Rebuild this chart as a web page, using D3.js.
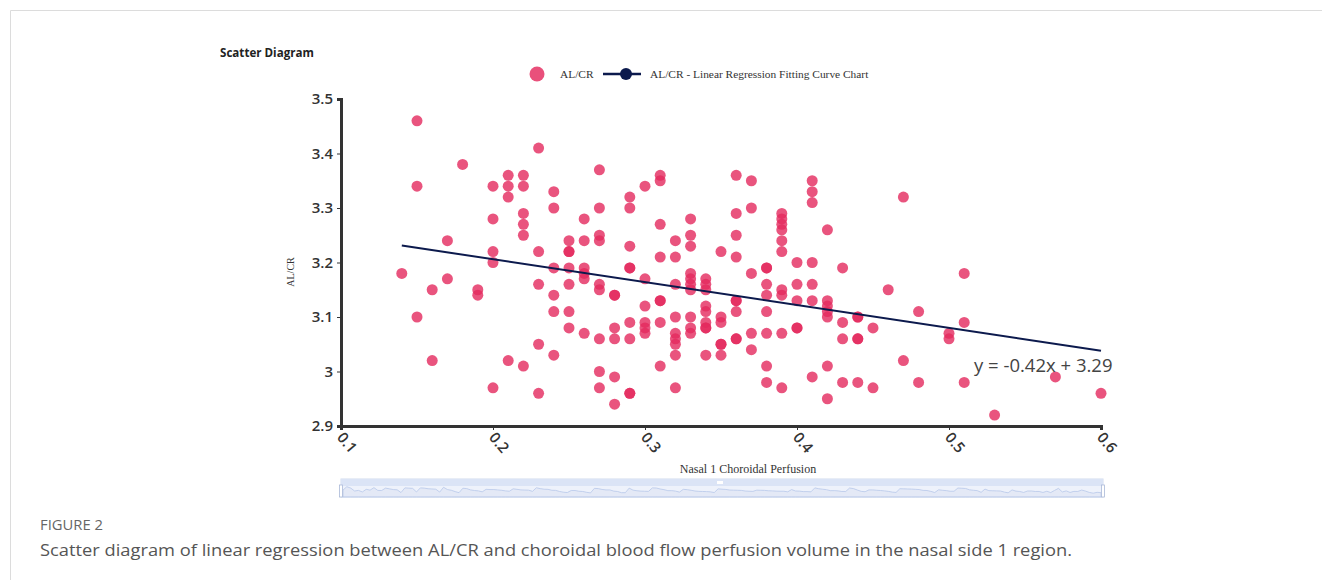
<html lang="en">
<head>
<meta charset="utf-8">
<title>Scatter Diagram</title>
<script src="https://d3js.org/d3.v7.min.js"></script>
<style>
  body { margin: 0; background: #fff; }
  svg { display: block; }
</style>
</head>
<body>
<svg id="chart"></svg>
<script>
// perfusion values (x) and the AL/CR readings found at each of them
var perfusion = [0.14, 0.15, 0.16, 0.17, 0.18, 0.19, 0.20, 0.21, 0.22, 0.23,
  0.24, 0.25, 0.26, 0.27, 0.28, 0.29, 0.30, 0.31, 0.32, 0.33, 0.34, 0.35,
  0.36, 0.37, 0.38, 0.39, 0.40, 0.41, 0.42, 0.43, 0.44, 0.45, 0.46, 0.47,
  0.48, 0.50, 0.51, 0.53, 0.57, 0.60];

var alcr = [
  [3.18],
  [3.46, 3.34, 3.10],
  [3.15, 3.02],
  [3.24, 3.17],
  [3.38],
  [3.15, 3.14],
  [3.34, 3.28, 3.22, 3.20, 2.97],
  [3.36, 3.34, 3.32, 3.02],
  [3.36, 3.34, 3.29, 3.27, 3.25, 3.01],
  [3.41, 3.22, 3.16, 3.05, 2.96],
  [3.33, 3.30, 3.19, 3.14, 3.11, 3.03],
  [3.24, 3.22, 3.22, 3.19, 3.16, 3.11, 3.08],
  [3.28, 3.24, 3.19, 3.18, 3.17, 3.07],
  [3.37, 3.30, 3.25, 3.24, 3.16, 3.15, 3.06, 3.00, 2.97],
  [3.14, 3.14, 3.08, 3.06, 2.99, 2.94],
  [3.32, 3.30, 3.23, 3.19, 3.19, 3.09, 3.06, 2.96, 2.96],
  [3.34, 3.17, 3.12, 3.09, 3.08, 3.07],
  [3.36, 3.35, 3.27, 3.21, 3.13, 3.13, 3.09, 3.01],
  [3.24, 3.21, 3.16, 3.10, 3.07, 3.06, 3.05, 3.03, 2.97],
  [3.28, 3.25, 3.23, 3.18, 3.17, 3.16, 3.15, 3.10, 3.08, 3.07],
  [3.17, 3.16, 3.15, 3.12, 3.11, 3.09, 3.08, 3.08, 3.03],
  [3.22, 3.10, 3.09, 3.05, 3.05, 3.03],
  [3.36, 3.29, 3.25, 3.21, 3.13, 3.13, 3.11, 3.06, 3.06],
  [3.35, 3.30, 3.18, 3.07, 3.04],
  [3.19, 3.19, 3.16, 3.14, 3.11, 3.07, 3.01, 2.98],
  [3.29, 3.28, 3.27, 3.26, 3.24, 3.22, 3.15, 3.14, 3.07, 2.97],
  [3.20, 3.16, 3.13, 3.08, 3.08],
  [3.35, 3.33, 3.31, 3.20, 3.16, 3.13, 2.99],
  [3.26, 3.13, 3.12, 3.11, 3.10, 3.01, 2.95],
  [3.19, 3.09, 3.06, 2.98],
  [3.10, 3.10, 3.06, 3.06, 2.98],
  [3.08, 2.97],
  [3.15],
  [3.32, 3.02],
  [3.11, 2.98],
  [3.07, 3.06],
  [3.18, 3.09, 2.98],
  [2.92],
  [2.99],
  [2.96]
];

var xTicks = [0.1, 0.2, 0.3, 0.4, 0.5, 0.6];
var yTicks = [2.9, 3, 3.1, 3.2, 3.3, 3.4, 3.5];

// fitted line y = slope * x + intercept
var slope = -0.42;
var intercept = 3.29;

var config = {
  w: 1322,
  h: 580,
  left: 341,
  right: 1101,
  top: 99,
  bottom: 426,
  r: 5.5
};

var pink = "#e4295e";
var navy = "#0c1a4d";

// flatten into points
var points = [];
perfusion.forEach(function(p, i) {
  alcr[i].forEach(function(v) { points.push({x: p, y: v}); });
});

var svg = d3.select("#chart")
  .attr("width", config.w)
  .attr("height", config.h);

// card outline
svg.append("path")
  .attr("d", "M10.5," + config.h + "V10.5H" + config.w)
  .attr("fill", "none")
  .attr("stroke", "#dcdcdc");

var x = d3.scaleLinear().domain([0.1, 0.6]).range([config.left, config.right]);
var y = d3.scaleLinear().domain([2.9, 3.5]).range([config.bottom, config.top]);

// title
svg.append("text")
  .attr("x", 220).attr("y", 57)
  .style("font", "bold 11.6px 'Open Sans', sans-serif")
  .attr("fill", "#222")
  .text("Scatter Diagram");

// legend
var legend = svg.append("g").style("font", "11.4px 'Liberation Serif', serif").attr("fill", "#333");
legend.append("circle").attr("cx", 537).attr("cy", 74).attr("r", 7.5).attr("fill", pink).attr("opacity", 0.82);
legend.append("text").attr("x", 560).attr("y", 78).text("AL/CR");
legend.append("line").attr("x1", 603).attr("x2", 641).attr("y1", 74).attr("y2", 74)
  .attr("stroke", navy).attr("stroke-width", 2.5);
legend.append("circle").attr("cx", 626).attr("cy", 74).attr("r", 6).attr("fill", navy);
legend.append("text").attr("x", 650).attr("y", 78).text("AL/CR - Linear Regression Fitting Curve Chart");

// y axis
var yAxis = svg.append("g")
  .attr("transform", "translate(" + config.left + ",0)")
  .call(d3.axisLeft(y).tickValues(yTicks).tickSize(4).tickPadding(4)
    .tickFormat(function(d) { return d3.format("")(+d.toFixed(1)); }));
yAxis.select(".domain").attr("stroke", "#333").attr("stroke-width", 3);
yAxis.selectAll(".tick line").attr("stroke", "#333");
yAxis.selectAll(".tick text")
  .style("font", "600 15px 'Open Sans', sans-serif")
  .attr("fill", "#333");

svg.append("text")
  .attr("transform", "translate(294,272) rotate(-90)")
  .attr("text-anchor", "middle")
  .style("font", "10px 'Liberation Serif', serif")
  .attr("fill", "#333")
  .text("AL/CR");

// x axis
var xAxis = svg.append("g")
  .attr("transform", "translate(0," + config.bottom + ")")
  .call(d3.axisBottom(x).tickValues(xTicks).tickSize(4).tickFormat(d3.format(".1f")));
xAxis.select(".domain").attr("stroke", "#333").attr("stroke-width", 3);
xAxis.selectAll(".tick line").attr("stroke", "#333");
xAxis.selectAll(".tick text")
  .style("font", "600 15px 'Open Sans', sans-serif")
  .attr("fill", "#333")
  .attr("text-anchor", "start")
  .attr("dy", "0.71em")
  .attr("y", 0)
  .attr("transform", "translate(3,5) rotate(50)");

svg.append("text")
  .attr("x", 748).attr("y", 473)
  .attr("text-anchor", "middle")
  .style("font", "12px 'Liberation Serif', serif")
  .attr("fill", "#333")
  .text("Nasal 1 Choroidal Perfusion");

// scatter points
svg.append("g").selectAll("circle")
  .data(points)
  .enter()
  .append("circle")
  .attr("cx", function(d) { return x(d.x); })
  .attr("cy", function(d) { return y(d.y); })
  .attr("r", config.r)
  .attr("fill", pink)
  .attr("fill-opacity", 0.8);

// regression line over the data range
var xExtent = d3.extent(points, function(d) { return d.x; });
var line = d3.line()
  .x(function(d) { return x(d); })
  .y(function(d) { return y(slope * d + intercept); });
svg.append("path")
  .attr("d", line(xExtent))
  .attr("fill", "none")
  .attr("stroke", navy)
  .attr("stroke-width", 2);

svg.append("text")
  .attr("x", 974).attr("y", 372)
  .style("font", "18.5px 'Open Sans', sans-serif")
  .attr("fill", "#444")
  .text("y = " + slope + "x + " + intercept);

// data zoom slider with data shadow
var zoom = {x0: 341, x1: 1103, y0: 479, y1: 497};
var slider = svg.append("g");
slider.append("rect")
  .attr("x", zoom.x0).attr("y", zoom.y0)
  .attr("width", zoom.x1 - zoom.x0).attr("height", zoom.y1 - zoom.y0)
  .attr("fill", "#eef2fb").attr("stroke", "#d2dbee");

var sx = d3.scaleLinear().domain([0, points.length - 1]).range([zoom.x0 + 2, zoom.x1 - 2]);
var sy = d3.scaleLinear().domain([2.6, 3.6]).range([zoom.y1, zoom.y0 + 6]);
var shadow = d3.area()
  .x(function(d, i) { return sx(i); })
  .y0(zoom.y1)
  .y1(function(d) { return sy(d.y); });
slider.append("path")
  .attr("d", shadow(points))
  .attr("fill", "#d2dbee").attr("fill-opacity", 0.35)
  .attr("stroke", "#b7c8ea").attr("stroke-width", 0.8);

slider.append("rect")
  .attr("x", zoom.x0).attr("y", zoom.y0)
  .attr("width", zoom.x1 - zoom.x0).attr("height", 7)
  .attr("fill", "#dbe4f6");
slider.append("rect")
  .attr("x", 717).attr("y", zoom.y0 + 2).attr("width", 6).attr("height", 3)
  .attr("fill", "#fff");
[zoom.x0, zoom.x1].forEach(function(hx) {
  slider.append("rect")
    .attr("x", hx - 1.5).attr("y", zoom.y0 + 6).attr("width", 3).attr("height", zoom.y1 - zoom.y0 - 6)
    .attr("fill", "#fff").attr("stroke", "#aab8d8").attr("stroke-width", 0.8);
});

// caption
svg.append("text")
  .attr("x", 40).attr("y", 530)
  .style("font", "14.5px 'Open Sans', sans-serif")
  .attr("fill", "#666")
  .attr("textLength", 63)
  .attr("lengthAdjust", "spacingAndGlyphs")
  .text("FIGURE 2");
svg.append("text")
  .attr("x", 40).attr("y", 556)
  .style("font", "17px 'Open Sans', sans-serif")
  .attr("fill", "#555")
  .attr("textLength", 1032)
  .attr("lengthAdjust", "spacingAndGlyphs")
  .text("Scatter diagram of linear regression between AL/CR and choroidal blood flow perfusion volume in the nasal side 1 region.");
</script>
</body>
</html>
